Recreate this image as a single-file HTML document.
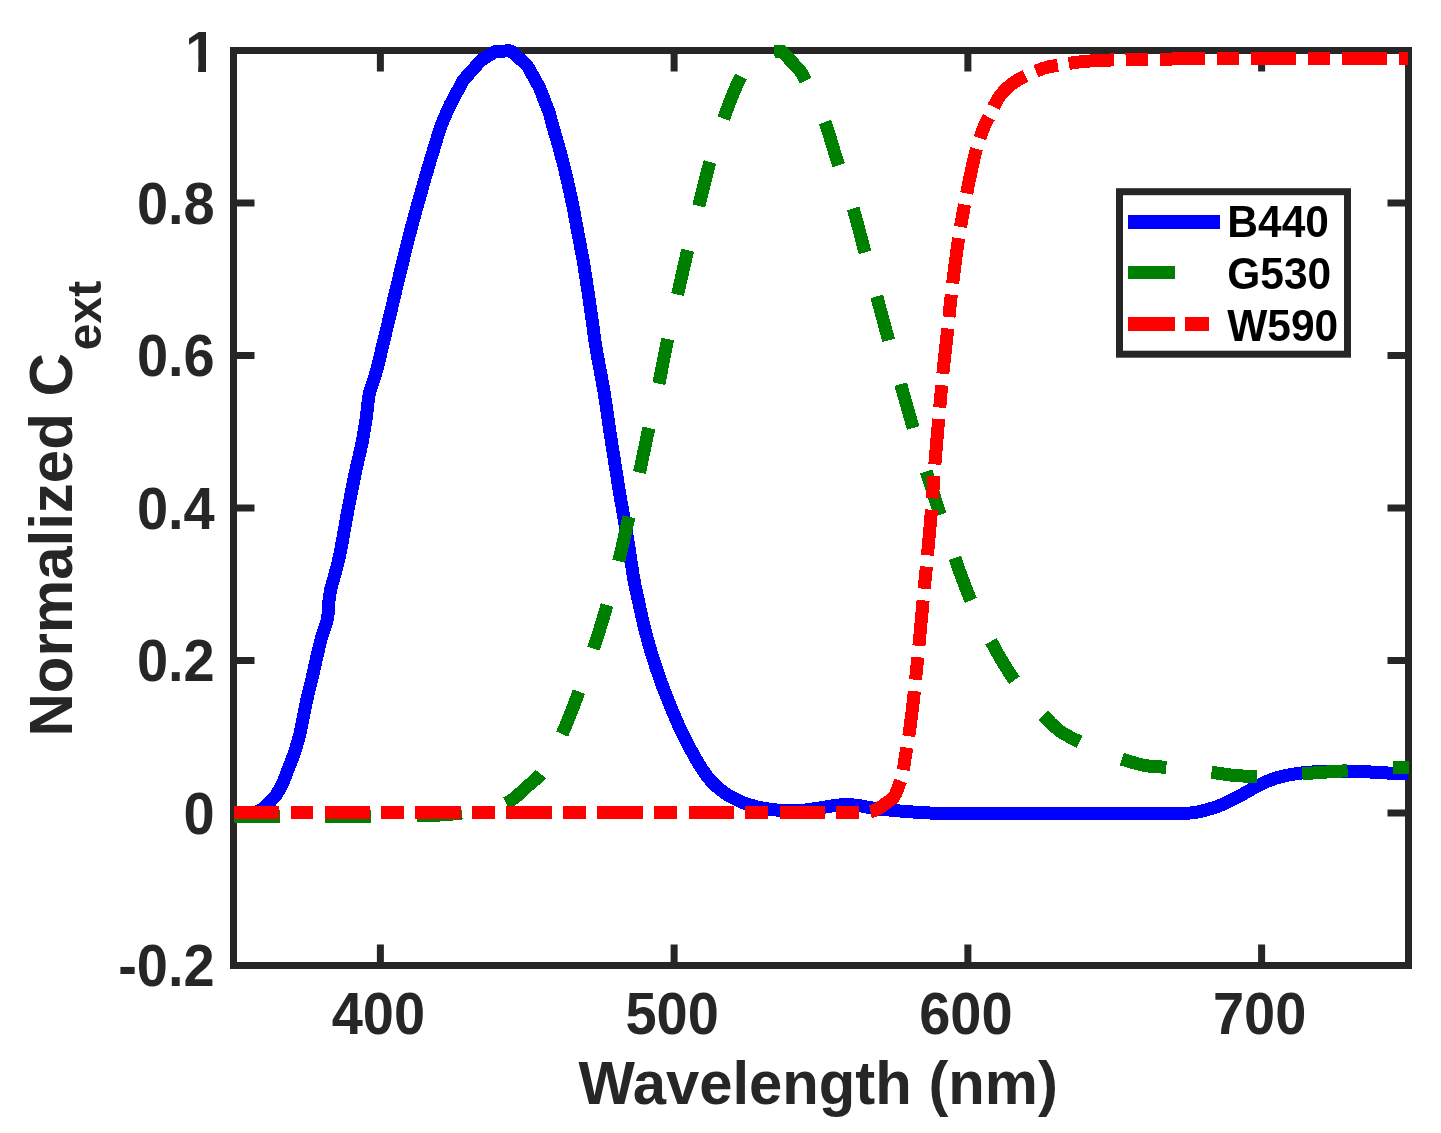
<!DOCTYPE html>
<html lang="en"><head><meta charset="utf-8"><title>Normalized Cext vs Wavelength</title>
<style>html,body{margin:0;padding:0;background:#fff;overflow:hidden}svg{display:block;will-change:transform}text{font-family:"Liberation Sans",Arial,Helvetica,sans-serif;font-weight:bold;fill:#262626}.tk{font-size:56px}.lb{font-size:60px}.lg{font-size:42.5px;fill:#000}</style></head><body>
<svg width="1441" height="1133" viewBox="0 0 1441 1133">
<rect width="1441" height="1133" fill="#fff"/>
<g stroke="#262626" stroke-width="7" fill="none" stroke-linecap="butt">
<rect x="233.5" y="50.5" width="1175.0" height="915.0"/>
<path d="M380.38 965.5V944.5M380.38 50.5V71.5M674.12 965.5V944.5M674.12 50.5V71.5M967.88 965.5V944.5M967.88 50.5V71.5M1261.62 965.5V944.5M1261.62 50.5V71.5M233.5 813.00H254.5M1408.5 813.00H1387.5M233.5 660.50H254.5M1408.5 660.50H1387.5M233.5 508.00H254.5M1408.5 508.00H1387.5M233.5 355.50H254.5M1408.5 355.50H1387.5M233.5 203.00H254.5M1408.5 203.00H1387.5"/>
</g>
<g fill="none" stroke-width="13" stroke-linecap="butt" stroke-linejoin="round" shape-rendering="crispEdges">
<path stroke="#0000ff" d="M233.50 813.00C237.33 813.00 241.40 813.10 245.00 813.00C248.18 812.91 251.13 813.10 254.00 812.50C256.79 811.91 259.56 811.01 262.00 809.50C264.58 807.90 266.70 805.36 269.00 803.00C271.47 800.46 274.07 797.88 276.30 794.70C278.82 791.12 281.32 786.21 283.10 782.40C284.56 779.27 285.15 777.11 286.50 773.60C288.50 768.40 291.69 760.71 293.90 754.20C296.08 747.77 298.08 741.31 299.70 734.80C301.31 728.35 302.27 721.79 303.60 715.30C304.93 708.82 306.22 702.35 307.70 695.90C309.19 689.42 310.98 682.98 312.50 676.50C314.01 670.04 315.30 663.56 316.80 657.10C318.30 650.63 319.73 644.14 321.50 637.70C323.29 631.21 326.22 624.84 327.50 618.30C328.76 611.87 328.52 604.17 329.20 598.80C329.68 595.00 330.09 592.31 330.80 589.10C331.52 585.85 332.47 583.19 333.50 579.40C334.95 574.05 337.14 566.31 338.60 560.00C339.98 554.06 340.90 548.92 342.10 542.60C343.52 535.07 344.98 526.05 346.50 517.80C348.02 509.55 349.58 501.33 351.20 493.10C352.82 484.86 354.42 476.63 356.20 468.40C357.99 460.13 360.25 451.88 361.90 443.60C363.54 435.38 364.87 427.15 366.10 418.90C367.33 410.68 367.53 402.36 369.30 394.20C371.10 385.89 374.65 377.73 376.90 369.50C379.11 361.43 380.69 353.64 382.70 345.30C384.85 336.38 387.18 326.84 389.40 317.60C391.62 308.34 393.78 299.06 396.00 289.80C398.22 280.56 400.44 271.34 402.70 262.10C404.97 252.84 407.20 243.55 409.60 234.30C412.00 225.05 414.55 215.84 417.10 206.60C419.65 197.34 422.22 188.06 424.90 178.80C427.59 169.52 430.34 160.24 433.20 151.00C436.07 141.74 438.99 131.56 442.10 123.30C444.70 116.39 447.50 110.83 450.20 104.60L463.30 80.20L481.20 60.20L495.60 51.20L510.80 50.90L527.00 65.20L539.30 87.10L549.50 113.50C550.33 116.77 550.89 119.21 552.00 123.30C553.88 130.20 557.50 141.74 560.00 151.00C562.50 160.24 564.83 169.51 567.00 178.80C569.16 188.05 571.13 197.33 573.00 206.60C574.86 215.83 576.47 225.06 578.20 234.30C579.93 243.56 581.81 252.83 583.40 262.10C584.98 271.33 586.30 280.56 587.70 289.80C589.10 299.06 590.48 308.34 591.80 317.60C593.11 326.84 593.96 334.99 595.60 345.30C597.69 358.45 601.16 374.66 603.70 390.00C606.38 406.18 608.63 423.34 611.20 440.00C613.77 456.67 616.34 473.34 619.10 490.00C621.87 506.68 625.21 524.25 627.80 540.00C630.11 554.07 631.85 568.25 634.00 580.00C635.71 589.33 637.47 596.67 639.30 605.00C641.13 613.34 642.89 621.69 645.00 630.00C647.12 638.36 649.46 646.70 652.00 655.00C654.56 663.36 657.32 671.70 660.30 680.00C663.31 688.37 666.61 696.70 670.00 705.00C673.41 713.36 676.79 721.74 680.70 730.00C684.68 738.41 689.76 747.91 693.70 755.00C696.69 760.39 699.05 764.59 702.00 769.00C704.83 773.24 707.66 777.33 711.00 781.00C714.33 784.66 718.03 788.02 722.00 791.00C726.02 794.02 730.41 796.69 735.00 799.00C739.73 801.38 744.94 803.41 750.00 805.00C754.94 806.56 759.61 807.58 765.00 808.50C771.16 809.55 778.80 810.40 785.00 810.70C790.35 810.96 794.65 810.87 800.00 810.50C806.20 810.07 813.82 808.90 820.00 808.00C825.37 807.22 830.38 806.09 835.00 805.50C838.94 804.99 842.25 804.51 846.00 804.50C849.91 804.49 853.67 804.94 858.00 805.50C863.19 806.17 868.77 807.64 875.00 808.50C882.51 809.54 891.28 810.27 900.00 811.00C909.54 811.79 919.99 812.58 930.00 813.00C939.99 813.42 947.32 813.39 960.00 813.50C981.96 813.68 1017.19 813.50 1050.00 813.50C1089.58 813.50 1159.49 814.27 1181.00 813.50C1188.04 813.25 1190.64 813.15 1195.00 812.50C1198.91 811.92 1202.14 811.06 1206.00 810.00C1210.41 808.79 1215.67 807.23 1220.00 805.50C1223.95 803.92 1227.13 802.13 1231.00 800.20C1235.40 798.01 1240.64 795.37 1245.00 793.00C1248.91 790.87 1252.21 788.68 1256.00 786.70C1259.88 784.67 1263.87 782.66 1268.00 781.00C1272.20 779.32 1275.91 777.96 1281.00 776.70C1287.93 774.98 1297.64 773.42 1306.00 772.50C1314.31 771.59 1322.66 771.42 1331.00 771.20C1339.33 770.98 1347.67 770.95 1356.00 771.20C1364.34 771.45 1372.47 772.24 1381.00 772.70C1389.95 773.18 1399.33 773.57 1408.50 774.00"/>
<path stroke="#008000" stroke-dasharray="45.5 45.5" stroke-dashoffset="-1" d="M233.50 816.00C255.67 816.17 275.58 816.47 300.00 816.50C329.95 816.54 374.17 816.39 400.00 816.00C416.34 815.75 428.65 815.66 440.00 815.00C448.43 814.51 454.60 813.90 462.00 813.00C469.60 812.08 477.60 811.10 485.00 809.50C492.08 807.97 500.11 806.15 505.50 803.70C509.43 801.91 511.72 800.03 515.00 797.50C519.00 794.42 523.33 789.95 527.50 786.20C531.66 782.45 536.26 779.50 540.00 775.00C544.20 769.96 547.54 763.30 551.00 757.00C554.63 750.40 557.51 744.49 561.20 736.20C566.45 724.39 573.31 707.04 578.70 692.50C583.96 678.30 588.56 664.31 593.20 650.00C597.89 635.54 602.48 620.87 606.70 606.20C610.91 591.54 614.82 576.75 618.50 562.00C622.15 547.35 625.26 532.69 628.70 518.00C632.16 503.25 635.87 488.55 639.20 473.70C642.54 458.78 645.44 443.62 648.70 428.70C651.94 413.89 655.57 399.28 658.70 384.50C661.83 369.71 664.38 354.86 667.50 340.00C670.64 325.02 674.14 309.89 677.50 295.00C680.81 280.30 684.00 265.88 687.50 251.20C691.06 236.28 694.93 221.13 698.70 206.20C702.43 191.39 705.83 176.60 710.00 162.00C714.16 147.43 719.42 131.07 723.70 118.70C726.96 109.27 729.89 101.48 733.00 94.00C735.66 87.62 738.33 81.86 741.00 76.50C743.33 71.80 745.67 67.83 748.00 63.50L757.00 54.50L766.00 51.50L782.00 51.40L800.10 70.60C802.07 74.07 803.61 76.34 806.00 81.00C810.60 89.97 819.12 107.34 824.50 121.20C829.98 135.33 833.73 150.49 838.50 165.00C843.23 179.42 848.60 193.47 853.00 208.00C857.44 222.64 861.03 237.73 865.00 252.50C868.93 267.13 872.76 281.59 876.70 296.20C880.66 310.92 884.69 325.79 888.70 340.50C892.69 355.12 896.62 369.64 900.70 384.20C904.79 398.80 908.94 413.47 913.20 428.00C917.44 442.46 921.72 456.88 926.20 471.20C930.66 485.45 935.27 499.36 940.00 513.70C944.86 528.45 949.75 543.80 955.00 558.50C960.16 572.96 965.15 587.30 971.20 601.20C977.22 615.03 985.16 630.32 991.20 641.70C995.72 650.22 999.54 656.84 1003.70 663.70C1007.47 669.92 1010.93 675.33 1015.00 681.20C1019.32 687.43 1024.10 694.14 1029.00 700.00C1033.69 705.61 1038.60 710.56 1043.70 715.70C1048.92 720.96 1053.97 726.82 1060.00 731.20C1066.06 735.60 1073.29 738.60 1080.00 742.00C1086.62 745.36 1093.02 748.64 1100.00 751.50C1107.32 754.50 1115.38 757.14 1123.00 759.50C1130.38 761.79 1137.52 764.17 1145.00 765.50C1152.52 766.84 1160.42 766.74 1168.00 767.50C1175.42 768.24 1182.58 769.18 1190.00 770.00C1197.58 770.84 1205.38 771.56 1213.00 772.50C1220.55 773.43 1227.90 774.98 1235.50 775.60C1243.23 776.23 1251.39 776.27 1259.00 776.20C1266.20 776.14 1272.84 775.70 1280.00 775.30C1287.50 774.88 1295.25 774.24 1303.00 773.70C1310.92 773.14 1319.08 772.54 1327.00 772.00C1334.75 771.47 1342.42 771.01 1350.00 770.50C1357.42 770.01 1364.67 769.50 1372.00 769.00C1379.33 768.50 1387.36 767.73 1394.00 767.50C1399.47 767.31 1404.00 767.50 1409.00 767.50"/>
<path stroke="#ff0000" stroke-dasharray="45.5 11.375 22.75 11.375" d="M233.50 812.50C322.33 812.50 408.54 812.50 500.00 812.50C597.04 812.50 738.92 812.50 800.00 812.50C826.86 812.50 848.03 812.50 858.00 812.50C861.46 812.50 862.64 812.69 865.00 812.50C867.44 812.30 869.99 812.07 872.40 811.30C874.92 810.50 877.36 809.15 879.75 807.70C882.27 806.17 884.71 804.11 887.10 802.30C889.42 800.54 892.09 799.33 893.90 797.00C895.94 794.38 896.93 790.48 898.30 787.00C899.74 783.33 901.21 779.84 902.30 775.50C903.65 770.12 904.24 762.49 905.20 757.00C905.97 752.56 906.68 750.00 907.50 745.00C908.85 736.74 910.71 722.46 912.00 712.00C913.17 702.56 913.99 694.59 915.00 685.00C916.15 674.09 917.26 662.79 918.50 650.00C920.00 634.49 921.79 614.42 923.30 598.50C924.60 584.73 925.73 573.67 927.00 560.00C928.45 544.42 930.15 526.46 931.50 510.00C932.81 493.97 933.71 478.73 935.00 462.50C936.36 445.43 938.07 426.09 939.50 410.00C940.72 396.31 941.67 385.25 943.00 372.00C944.47 357.44 946.49 340.24 948.00 326.20C949.28 314.25 950.20 304.28 951.50 293.00C952.86 281.24 954.48 268.13 956.00 257.00C957.32 247.35 958.51 239.03 960.00 230.00C961.51 220.86 963.30 211.49 965.00 202.50C966.64 193.83 968.11 185.83 970.00 177.00C972.06 167.39 974.40 155.93 977.00 147.00C979.15 139.60 981.57 132.75 984.00 127.00C985.94 122.42 988.18 118.84 990.00 115.00C991.65 111.53 992.74 108.32 994.50 105.00C996.37 101.48 998.68 97.55 1001.00 94.50C1003.04 91.82 1005.01 89.72 1007.50 87.50C1010.27 85.03 1013.67 82.58 1017.00 80.50C1020.34 78.41 1024.02 76.69 1027.50 75.00C1030.85 73.37 1034.09 71.83 1037.50 70.50C1040.92 69.16 1044.35 67.91 1048.00 67.00C1051.83 66.05 1056.07 65.68 1060.00 65.00C1063.80 64.34 1066.97 63.60 1071.20 63.00C1076.65 62.22 1083.16 61.52 1090.00 61.00C1098.18 60.38 1107.48 60.10 1117.00 59.80C1127.68 59.47 1138.63 59.36 1151.00 59.20C1165.84 59.01 1180.78 58.91 1200.00 58.80C1227.45 58.65 1265.99 58.55 1300.00 58.50C1335.43 58.45 1372.33 58.50 1408.50 58.50"/>
</g>
<text class="tk" text-anchor="end" transform="translate(214.70 223.70) scale(1 1.0650)">0.8</text>
<text class="tk" text-anchor="end" transform="translate(214.70 376.20) scale(1 1.0650)">0.6</text>
<text class="tk" text-anchor="end" transform="translate(214.70 528.70) scale(1 1.0650)">0.4</text>
<text class="tk" text-anchor="end" transform="translate(214.70 681.20) scale(1 1.0650)">0.2</text>
<text class="tk" text-anchor="end" transform="translate(214.70 833.70) scale(1 1.0650)">0</text>
<text class="tk" text-anchor="end" transform="translate(214.70 986.20) scale(1 1.0650)">-0.2</text>
<text class="tk" text-anchor="end" transform="translate(216.30 72.00) scale(1 1.0350)">1</text>
<rect x="180" y="60" width="18.2" height="16" fill="#fff"/><rect x="206" y="60" width="16" height="16" fill="#fff"/>
<text class="tk" text-anchor="middle" transform="translate(378.38 1033.80) scale(1 1.0650)">400</text>
<text class="tk" text-anchor="middle" transform="translate(672.12 1033.80) scale(1 1.0650)">500</text>
<text class="tk" text-anchor="middle" transform="translate(965.88 1033.80) scale(1 1.0650)">600</text>
<text class="tk" text-anchor="middle" transform="translate(1259.62 1033.80) scale(1 1.0650)">700</text>
<text class="lb" text-anchor="middle" transform="translate(818.2 1104) scale(0.9967 1.03)">Wavelength (nm)</text>
<text class="lb" transform="translate(72.4 736.5) rotate(-90) scale(1 1.020)">Normalized C<tspan font-size="48px" dx="3" dy="28.43">ext</tspan></text>
<rect x="1119.5" y="191.7" width="228" height="162.5" fill="none" stroke="#262626" stroke-width="7"/>
<g fill="none" stroke-width="14">
<path stroke="#0000ff" d="M1128 222H1220"/>
<path stroke="#008000" stroke-width="13" d="M1128 272.5H1175"/>
<path stroke="#ff0000" d="M1128 324H1175M1185 324H1209"/>
</g>
<text class="lg" text-anchor="start" transform="translate(1227.30 236.80) scale(1 1.0350)">B440</text>
<text class="lg" text-anchor="start" transform="translate(1227.20 288.90) scale(1 1.0350)">G530</text>
<text class="lg" text-anchor="start" transform="translate(1227.20 340.50) scale(1 1.0350)">W590</text>
</svg></body></html>
